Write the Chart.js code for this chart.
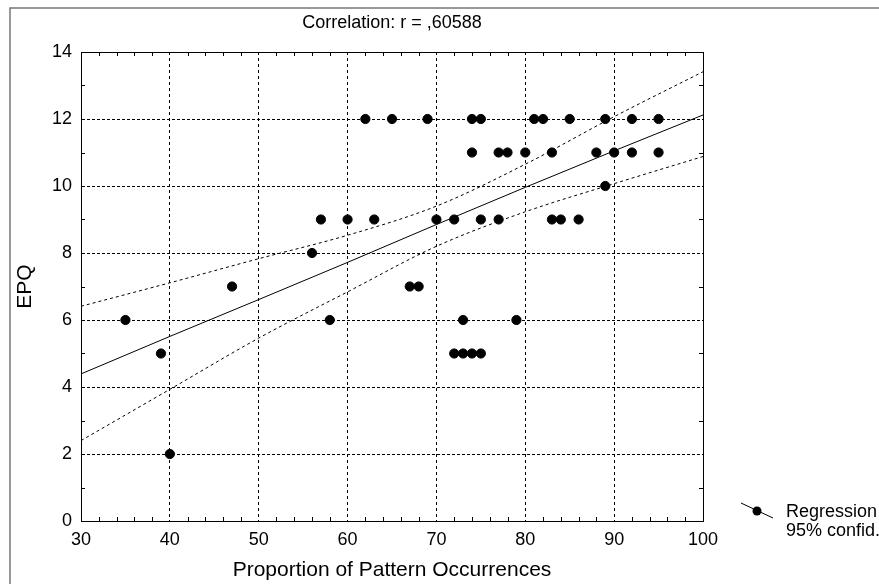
<!DOCTYPE html>
<html>
<head>
<meta charset="utf-8">
<script src="https://cdn.jsdelivr.net/npm/chart.js@4"></script>
<style>
  html, body { margin: 0; padding: 0; background: #fff; }
  #wrap { width: 879px; height: 584px; }
</style>
</head>
<body>
<div id="wrap"><canvas id="corrChart" width="879" height="584"></canvas></div>
<script>
// punkty: Proportion of Pattern Occurrences vs EPQ
const occX = [62, 65, 69, 74, 75, 81, 82, 85, 89, 92, 95,
              74, 77, 78, 80, 83, 88, 90, 92, 95,
              89,
              57, 60, 63, 70, 72, 75, 77, 83, 84, 86,
              56,
              47, 67, 68,
              35, 58, 73, 79,
              39, 72, 73, 74, 75,
              40];
const epqY = [12, 12, 12, 12, 12, 12, 12, 12, 12, 12, 12,
              11, 11, 11, 11, 11, 11, 11, 11, 11,
              10,
              9, 9, 9, 9, 9, 9, 9, 9, 9, 9,
              8,
              7, 7, 7,
              6, 6, 6, 6,
              5, 5, 5, 5, 5,
              2];

// regression + 95% band
const fitX = [30, 40, 50, 60, 70, 80, 90, 100];
const regLine = [4.39, 5.51, 6.61, 7.72, 8.85, 9.96, 11.05, 12.12];
const upper95 = [6.41, 7.11, 7.83, 8.53, 9.40, 10.65, 12.07, 13.41];
const lower95 = [2.40, 3.93, 5.46, 6.84, 8.20, 9.23, 10.07, 10.88];

const xTicks = [30, 40, 50, 60, 70, 80, 90, 100];
const yTicks = [0, 2, 4, 6, 8, 10, 12, 14];

const FONT = "'Liberation Sans', Arial, sans-serif";

function toPoints(xs, ys) {
  return xs.map((x, i) => ({ x: x, y: ys[i] }));
}

// ramka, kreski pomocnicze i legenda
const extras = {
  id: 'extras',
  beforeDraw(chart) {
    const ctx = chart.ctx;
    ctx.save();
    ctx.fillStyle = '#fff';
    ctx.fillRect(0, 0, chart.width, chart.height);
    ctx.strokeStyle = '#777';
    ctx.lineWidth = 1.5;
    ctx.beginPath();
    ctx.moveTo(10, chart.height);
    ctx.lineTo(10, 8);
    ctx.lineTo(chart.width, 8);
    ctx.stroke();
    ctx.restore();
  },
  afterDraw(chart) {
    const ctx = chart.ctx;
    const a = chart.chartArea;
    const xs = chart.scales.x, ys = chart.scales.y;
    ctx.save();
    ctx.strokeStyle = '#000';
    ctx.lineWidth = 1;
    ctx.strokeRect(Math.round(a.left) + 0.5, Math.round(a.top) + 0.5,
                   Math.round(a.right - a.left), Math.round(a.bottom - a.top));
    ctx.beginPath();
    for (let v = 1; v < 14; v += 2) {
      const py = Math.round(ys.getPixelForValue(v)) + 0.5;
      ctx.moveTo(a.left, py); ctx.lineTo(a.left + 4, py);
      ctx.moveTo(a.right, py); ctx.lineTo(a.right - 4, py);
    }
    for (let v = 32; v < 100; v += 2) {
      if (v % 10 === 0) continue;
      const px = Math.round(xs.getPixelForValue(v)) + 0.5;
      ctx.moveTo(px, a.bottom); ctx.lineTo(px, a.bottom - 4);
      ctx.moveTo(px, a.top); ctx.lineTo(px, a.top + 4);
    }
    ctx.stroke();

    // legenda
    ctx.beginPath();
    ctx.moveTo(741, 503);
    ctx.lineTo(773, 518);
    ctx.stroke();
    ctx.fillStyle = '#000';
    ctx.beginPath();
    ctx.arc(757, 511, 4.5, 0, Math.PI * 2);
    ctx.fill();
    ctx.font = '18px ' + FONT;
    ctx.textBaseline = 'middle';
    ctx.textAlign = 'left';
    ctx.fillText('Regression', 786, 512);
    ctx.fillText('95% confid.', 786, 531);
    ctx.restore();
  }
};

const ctx = document.getElementById('corrChart').getContext('2d');
new Chart(ctx, {
  type: 'scatter',
  data: {
    datasets: [
      {
        label: 'EPQ',
        data: toPoints(occX, epqY),
        backgroundColor: '#000',
        borderColor: '#000',
        pointRadius: 4.6,
        pointHoverRadius: 4.6,
        order: 0
      },
      {
        label: 'Regression',
        data: toPoints(fitX, regLine),
        showLine: true,
        borderColor: '#000',
        borderWidth: 1,
        pointRadius: 0,
        tension: 0,
        order: 1
      },
      {
        label: '95% confid.',
        data: toPoints(fitX, upper95),
        showLine: true,
        borderColor: '#000',
        borderWidth: 1,
        borderDash: [3, 3],
        pointRadius: 0,
        cubicInterpolationMode: 'monotone',
        order: 2
      },
      {
        label: '95% confid. low',
        data: toPoints(fitX, lower95),
        showLine: true,
        borderColor: '#000',
        borderWidth: 1,
        borderDash: [3, 3],
        pointRadius: 0,
        cubicInterpolationMode: 'monotone',
        order: 3
      }
    ]
  },
  options: {
    responsive: false,
    animation: false,
    layout: { padding: { top: 0, right: 176, bottom: 0, left: 0 } },
    plugins: {
      legend: { display: false },
      tooltip: { enabled: false },
      title: {
        display: true,
        text: 'Correlation: r = ,60588',
        color: '#000',
        fullSize: false,
        font: { family: FONT, size: 18, weight: 'normal' },
        padding: { top: 12, bottom: 18.4 }
      }
    },
    scales: {
      x: {
        type: 'linear',
        min: 30,
        max: 100,
        afterFit: s => { s.height = 63; },
        afterBuildTicks: s => { s.ticks = xTicks.map(v => ({ value: v })); },
        ticks: { color: '#000', padding: 8, font: { family: FONT, size: 18 }, maxRotation: 0 },
        grid: { color: '#000', drawTicks: false, lineWidth: 1 },
        border: { display: true, color: '#000', width: 1, dash: [3, 3] },
        title: {
          display: true,
          text: 'Proportion of Pattern Occurrences',
          color: '#000',
          font: { family: FONT, size: 21 },
          padding: { top: 0, bottom: 1 }
        }
      },
      y: {
        type: 'linear',
        min: 0,
        max: 14,
        afterFit: s => { s.width = 81; },
        afterBuildTicks: s => { s.ticks = yTicks.map(v => ({ value: v })); },
        ticks: { color: '#000', padding: 9, font: { family: FONT, size: 18 } },
        grid: { color: '#000', drawTicks: false, lineWidth: 1 },
        border: { display: true, color: '#000', width: 1, dash: [3, 2] },
        title: {
          display: true,
          text: 'EPQ',
          color: '#000',
          font: { family: FONT, size: 21 },
          padding: { top: 13, bottom: 0 }
        }
      }
    }
  },
  plugins: [extras]
});
</script>
</body>
</html>
